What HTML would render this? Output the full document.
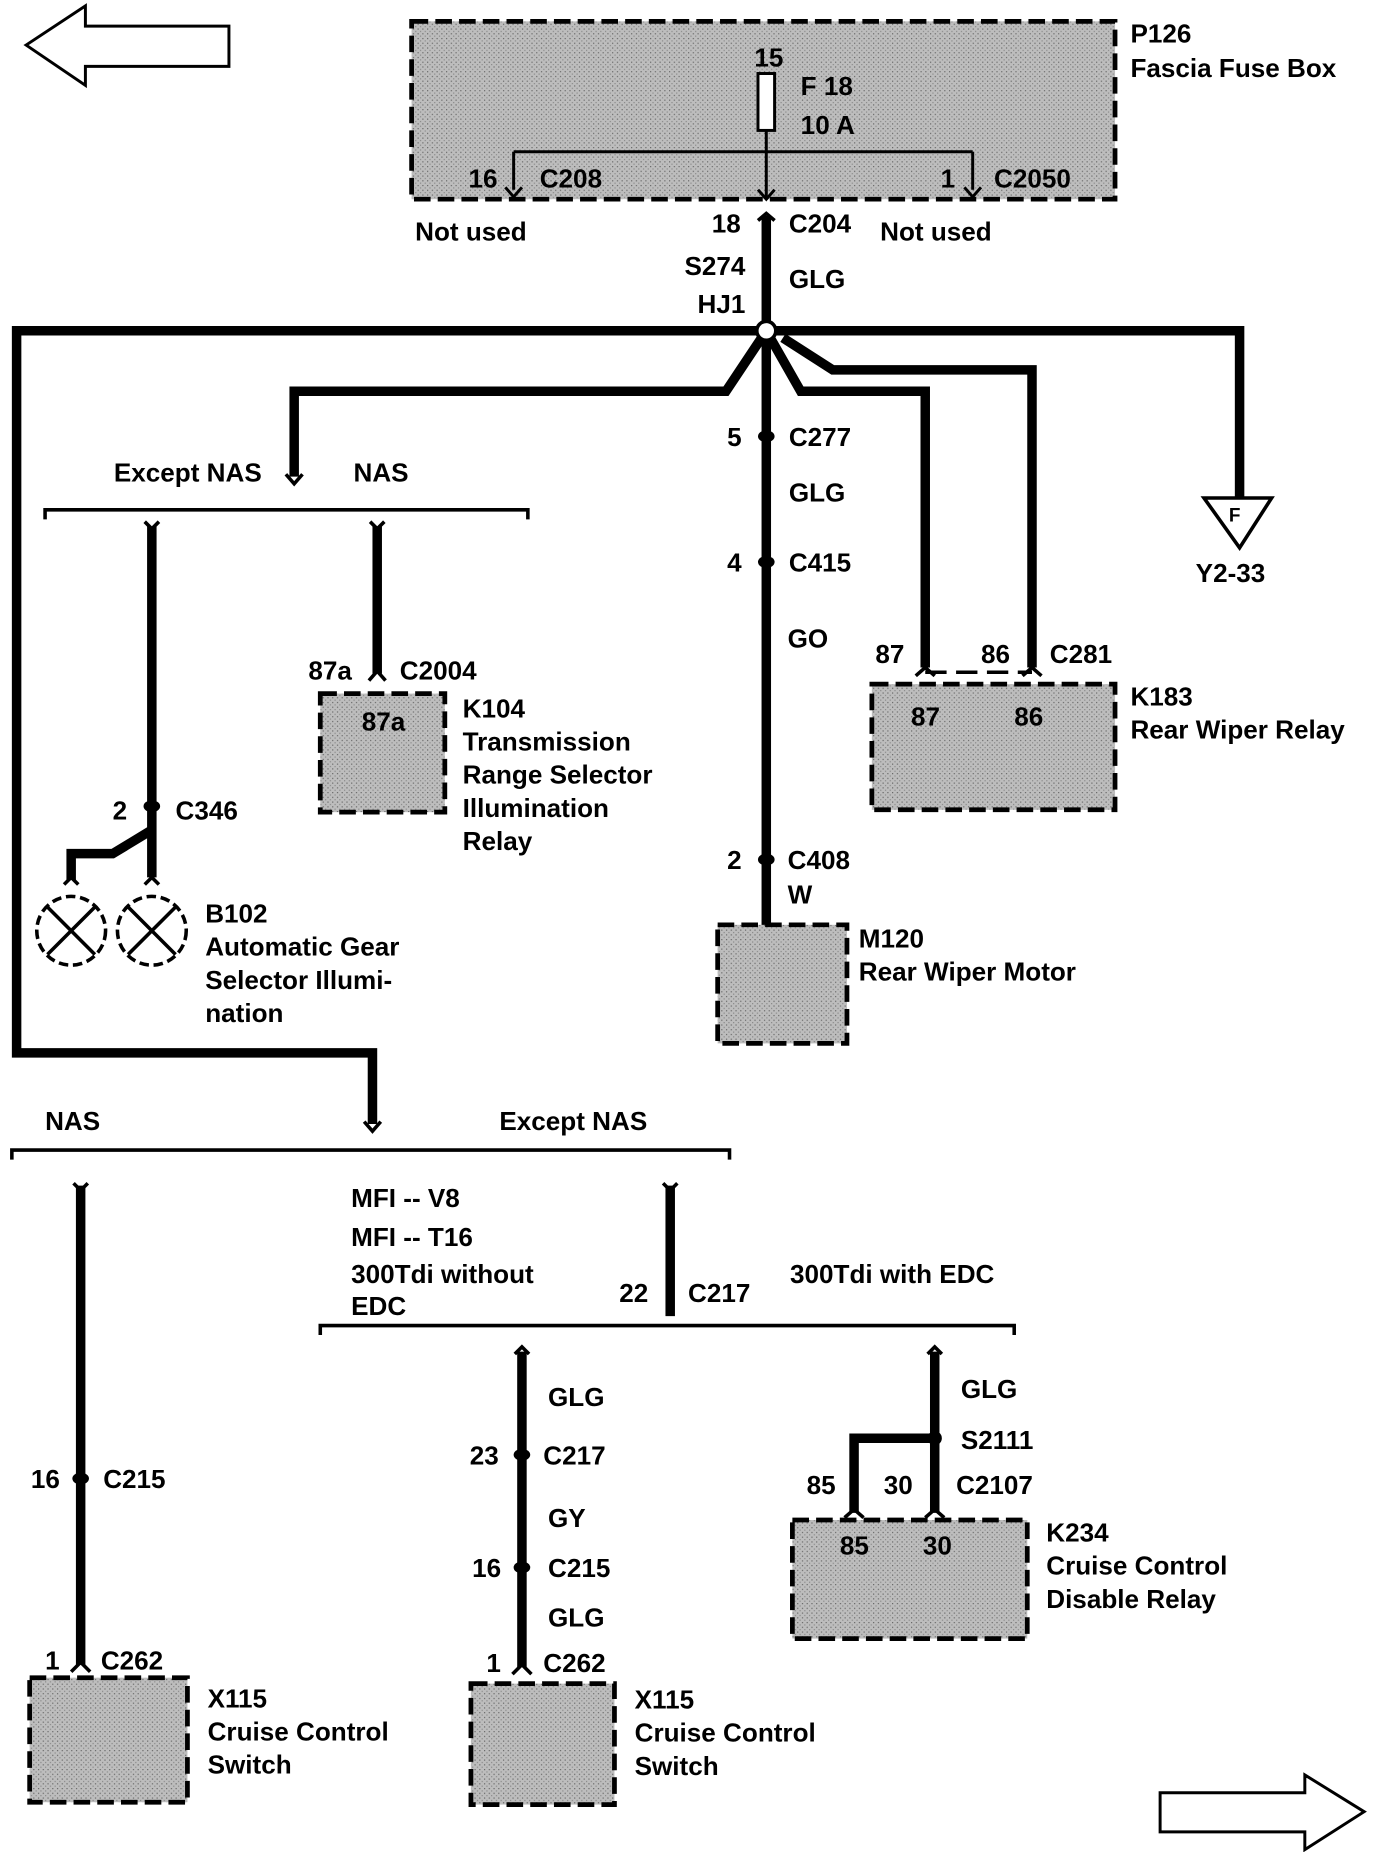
<!DOCTYPE html>
<html><head><meta charset="utf-8"><style>
html,body{margin:0;padding:0;background:#fff;width:1376px;height:1852px;overflow:hidden}
svg{display:block}
text{font-family:"Liberation Sans",sans-serif;font-weight:bold;font-size:22px;fill:#000}
</style></head><body>
<svg width="1376" height="1852" viewBox="0 0 1160 1562" preserveAspectRatio="none">
<defs>
<pattern id="dots" width="4" height="4" patternUnits="userSpaceOnUse">
<rect width="4" height="4" fill="#bdbdbd"/><rect width="1" height="1" fill="#666"/><rect x="2" y="2" width="1" height="1" fill="#888"/>
</pattern>
</defs>
<g fill="none" stroke="#000" stroke-width="2.5">
<path d="M22,38 L72,5 L72,22 L193,22 L193,56 L72,56 L72,72 Z"/>
<path d="M1150,1528 L1100,1497 L1100,1512 L978,1512 L978,1545 L1100,1545 L1100,1560 Z"/>
</g>
<g fill="url(#dots)" stroke="#000" stroke-width="4" stroke-dasharray="14,6">
<rect x="347" y="18" width="593" height="150"/>
<rect x="270" y="585" width="105" height="100"/>
<rect x="735" y="577" width="205" height="106"/>
<rect x="605" y="780" width="109" height="100"/>
<rect x="25" y="1415" width="133" height="105"/>
<rect x="397" y="1420" width="121" height="102"/>
<rect x="668" y="1282" width="198" height="100"/>
</g>
<g fill="none" stroke="#000" stroke-width="2.5">
<rect x="639" y="62" width="14" height="48" fill="#fff"/>
<path d="M646,110 V168 M433,128 H820 M433,128 V160 M820,128 V160"/>
<path d="M426,158 L433,166 L440,158 M639,160 L646,168 L653,160 M813,158 L820,166 L827,158"/>
</g>
<g fill="none" stroke="#000" stroke-width="8" stroke-linejoin="miter">
<path d="M646,182 V780"/>
<path d="M646,279 H14 V888 H314 V948"/>
<path d="M646,279 H1045 V420"/>
<path d="M646,279 L612,330 H248 V402"/>
<path d="M646,279 L675,330 H780 V563"/>
<path d="M660,285 L702,312 H870 V563"/>
<path d="M128,444 V740"/>
<path d="M128,700 L95,720 H60 V742"/>
<path d="M318,444 V568"/>
<path d="M68,1000 V1404"/>
<path d="M565,1000 V1110"/>
<path d="M440,1140 V1406"/>
<path d="M788,1140 V1276"/>
<path d="M788,1213 H720 V1276"/>
</g>
<circle cx="646" cy="279" r="8" fill="#fff" stroke="#000" stroke-width="3"/>
<circle cx="788" cy="1213" r="6" fill="#000"/>
<g fill="none" stroke="#000" stroke-width="3">
<path d="M38,438 V430 H445 V438"/>
<path d="M10,978 V970 H615 V978"/>
<path d="M270,1126 V1118 H855 V1126"/>
<path d="M780,567 H870" stroke-dasharray="18,8"/>
<path d="M1015,420 H1072 L1045,462 Z" stroke-width="3"/>
<path d="M241,400 L248,408 L255,400 M307,946 L314,954 L321,946 M122,440 L128,446 L134,440 M312,440 L318,446 L324,440 M62,998 L68,1004 L74,998 M559,998 L565,1004 L571,998 M434,1142 L440,1136 L446,1142 M782,1142 L788,1136 L794,1142"/>
<path d="M772,570 L780,563 L788,570 M862,570 L870,563 L878,570 M311,574 L318,566 L325,574 M54,746 L60,740 L66,746 M122,746 L128,740 L134,746 M60,1410 L68,1402 L76,1410 M432,1412 L440,1404 L448,1412 M712,1280 L720,1273 L728,1280 M780,1280 L788,1273 L796,1280 M639,186 L646,180 L653,186"/>
</g>
<g fill="#000">
<ellipse cx="646" cy="368" rx="7" ry="5"/><ellipse cx="646" cy="474" rx="7" ry="5"/><ellipse cx="646" cy="725" rx="7" ry="5"/>
<ellipse cx="128" cy="680" rx="7" ry="5"/><ellipse cx="68" cy="1247" rx="7" ry="5"/><ellipse cx="440" cy="1227" rx="7" ry="5"/><ellipse cx="440" cy="1322" rx="7" ry="5"/>
</g>
<g fill="#fff" stroke="#000" stroke-width="3">
<circle cx="60" cy="785" r="29" stroke-dasharray="8,4"/><circle cx="128" cy="785" r="29" stroke-dasharray="8,4"/>
<path d="M40,765 L80,805 M80,765 L40,805 M108,765 L148,805 M148,765 L108,805" fill="none"/>
</g>
<text x="1036" y="440" style="font-size:16px">F</text>
<text x="636" y="56">15</text>
<text x="675" y="80">F 18</text>
<text x="675" y="113">10 A</text>
<text x="395" y="158">16</text><text x="455" y="158">C208</text>
<text x="793" y="158">1</text><text x="838" y="158">C2050</text>
<text x="953" y="36">P126</text><text x="953" y="65">Fascia Fuse Box</text>
<text x="350" y="203">Not used</text><text x="600" y="196">18</text><text x="665" y="196">C204</text><text x="742" y="203">Not used</text>
<text x="577" y="232">S274</text><text x="665" y="243">GLG</text><text x="588" y="264">HJ1</text>
<text x="96" y="406">Except NAS</text><text x="298" y="406">NAS</text>
<text x="613" y="376">5</text><text x="665" y="376">C277</text>
<text x="665" y="423">GLG</text>
<text x="613" y="482">4</text><text x="665" y="482">C415</text>
<text x="664" y="546">GO</text>
<text x="738" y="559">87</text><text x="827" y="559">86</text><text x="885" y="559">C281</text>
<text x="768" y="612">87</text><text x="855" y="612">86</text>
<text x="953" y="595">K183</text><text x="953" y="623">Rear Wiper Relay</text>
<text x="1008" y="491">Y2-33</text>
<text x="260" y="573">87a</text><text x="337" y="573">C2004</text>
<text x="305" y="616">87a</text>
<text x="390" y="605">K104</text><text x="390" y="633">Transmission</text><text x="390" y="661">Range Selector</text><text x="390" y="689">Illumination</text><text x="390" y="717">Relay</text>
<text x="95" y="691">2</text><text x="148" y="691">C346</text>
<text x="173" y="778">B102</text><text x="173" y="806">Automatic Gear</text><text x="173" y="834">Selector Illumi-</text><text x="173" y="862">nation</text>
<text x="613" y="733">2</text><text x="664" y="733">C408</text><text x="664" y="762">W</text>
<text x="724" y="799">M120</text><text x="724" y="827">Rear Wiper Motor</text>
<text x="38" y="953">NAS</text><text x="421" y="953">Except NAS</text>
<text x="296" y="1018">MFI -- V8</text><text x="296" y="1051">MFI -- T16</text><text x="296" y="1082">300Tdi without</text><text x="296" y="1109">EDC</text>
<text x="522" y="1098">22</text><text x="580" y="1098">C217</text><text x="666" y="1082">300Tdi with EDC</text>
<text x="26" y="1255">16</text><text x="87" y="1255">C215</text>
<text x="38" y="1408">1</text><text x="85" y="1408">C262</text>
<text x="175" y="1440">X115</text><text x="175" y="1468">Cruise Control</text><text x="175" y="1496">Switch</text>
<text x="462" y="1186">GLG</text>
<text x="396" y="1235">23</text><text x="458" y="1235">C217</text>
<text x="462" y="1288">GY</text>
<text x="398" y="1330">16</text><text x="462" y="1330">C215</text>
<text x="462" y="1372">GLG</text>
<text x="410" y="1410">1</text><text x="458" y="1410">C262</text>
<text x="535" y="1441">X115</text><text x="535" y="1469">Cruise Control</text><text x="535" y="1497">Switch</text>
<text x="810" y="1179">GLG</text><text x="810" y="1222">S2111</text>
<text x="680" y="1260">85</text><text x="745" y="1260">30</text><text x="806" y="1260">C2107</text>
<text x="708" y="1311">85</text><text x="778" y="1311">30</text>
<text x="882" y="1300">K234</text><text x="882" y="1328">Cruise Control</text><text x="882" y="1356">Disable Relay</text>
</svg>
</body></html>
